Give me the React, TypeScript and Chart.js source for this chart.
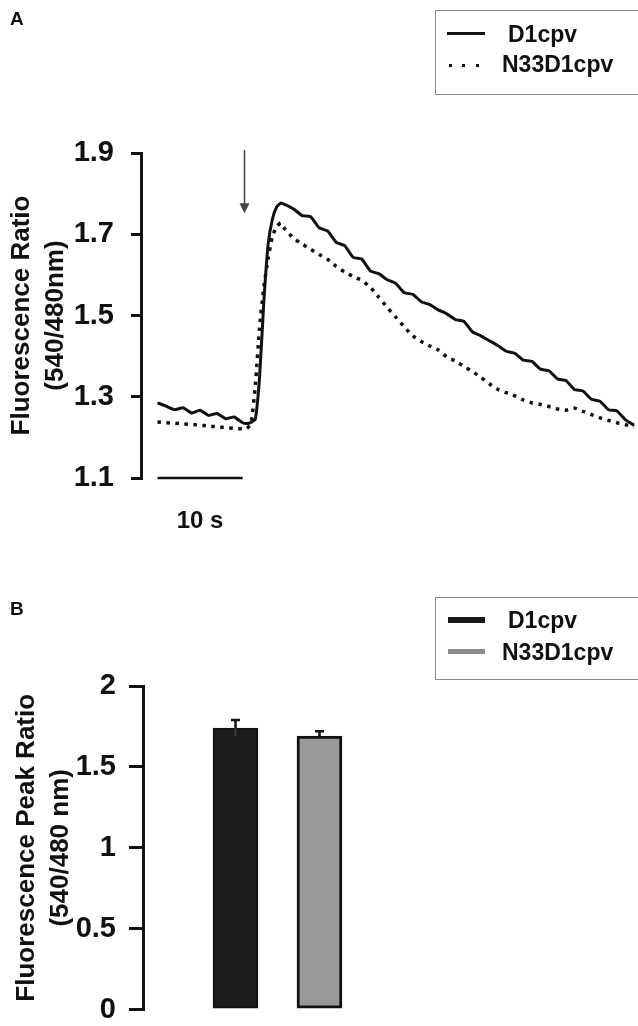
import React, { useEffect, useRef } from "react";
import { Chart, registerables } from "chart.js";

Chart.register(...registerables);

// ---------- Panel A data ----------
const timeSec = [
  0, 1, 2, 3, 4, 5, 6, 7, 8, 9, 10,
  10.5, 11, 11.5, 12, 12.5, 13, 13.5, 14, 14.5, 15,
  16, 17, 18, 19, 20, 21, 22, 23, 24, 25, 26, 27, 28, 29, 30, 31, 32, 33, 34, 35,
  36, 37, 38, 39, 40, 41, 42, 43, 44, 45, 46, 47, 48, 49, 50, 51, 52, 53, 54, 55, 56,
];
const d1cpvRatio = [
  1.285, 1.277, 1.268, 1.273, 1.26, 1.267, 1.254, 1.259, 1.246, 1.25, 1.236,
  1.234, 1.237, 1.245, 1.35, 1.535, 1.675, 1.737, 1.767, 1.777, 1.773,
  1.762, 1.746, 1.743, 1.716, 1.708, 1.68, 1.672, 1.643, 1.639, 1.61, 1.603, 1.588, 1.579, 1.556, 1.552, 1.534, 1.527, 1.514, 1.504, 1.49,
  1.486, 1.46, 1.45, 1.438, 1.426, 1.412, 1.407, 1.39, 1.387, 1.368, 1.364, 1.344, 1.34, 1.318, 1.314, 1.294, 1.289, 1.268, 1.265, 1.243, 1.23,
];
const n33d1cpvRatio = [
  1.238, 1.236, 1.235, 1.233, 1.232, 1.23, 1.228, 1.226, 1.224, 1.222, 1.221,
  1.222, 1.235, 1.33, 1.47, 1.57, 1.64, 1.695, 1.718, 1.728, 1.712,
  1.69, 1.676, 1.663, 1.65, 1.638, 1.621, 1.607, 1.596, 1.586, 1.57, 1.545, 1.52, 1.496, 1.472, 1.45, 1.436, 1.425, 1.415, 1.398, 1.388,
  1.375, 1.362, 1.348, 1.332, 1.318, 1.31, 1.302, 1.292, 1.285, 1.281, 1.276, 1.27, 1.267, 1.272, 1.264, 1.256, 1.248, 1.242, 1.236, 1.231, 1.226,
];
const scaleBarTime = [0, 10];
const scaleBarLevel = [1.1, 1.1];
const scaleBarLabel = "10 s";
const stimulusTime = [10.2];
const stimulusFrom = [1.907];
const stimulusTo = [1.752];
const seriesNames = ["D1cpv", "N33D1cpv"];
const ratioTitle = ["Fluorescence Ratio", "(540/480nm)"];

// ---------- Panel B data ----------
const barGroups = ["D1cpv", "N33D1cpv"];
const barPos = [1, 2];
const peakMean = [1.74, 1.69];
const peakErr = [0.05, 0.03];
const peakTitle = ["Fluorescence Peak Ratio", "(540/480 nm)"];

const FONT = "'Liberation Sans', Arial, Helvetica, sans-serif";
const INK = "#111";

const annotPlugin = {
  id: "annotA",
  afterDatasetsDraw(chart: any) {
    const { ctx, scales } = chart;
    const xs = scales.x;
    const ys = scales.y;
    ctx.save();
    for (let i = 0; i < stimulusTime.length; i++) {
      const x = Math.round(xs.getPixelForValue(stimulusTime[i])) + 0.5;
      const y1 = ys.getPixelForValue(stimulusFrom[i]);
      const y2 = ys.getPixelForValue(stimulusTo[i]);
      ctx.strokeStyle = "#444";
      ctx.fillStyle = "#444";
      ctx.lineWidth = 1.5;
      ctx.beginPath();
      ctx.moveTo(x, y1);
      ctx.lineTo(x, y2 - 8);
      ctx.stroke();
      ctx.beginPath();
      ctx.moveTo(x - 5, y2 - 10);
      ctx.lineTo(x + 5, y2 - 10);
      ctx.lineTo(x, y2);
      ctx.closePath();
      ctx.fill();
    }
    const cx = (xs.getPixelForValue(scaleBarTime[0]) + xs.getPixelForValue(scaleBarTime[1])) / 2;
    const by = ys.getPixelForValue(scaleBarLevel[0]);
    ctx.fillStyle = INK;
    ctx.font = `bold 24px ${FONT}`;
    ctx.textAlign = "center";
    ctx.textBaseline = "alphabetic";
    ctx.fillText(scaleBarLabel, cx, by + 50);
    ctx.restore();
  },
};

const errorPlugin = {
  id: "errB",
  afterDatasetsDraw(chart: any) {
    const { ctx, scales } = chart;
    const ys = scales.y;
    ctx.save();
    chart.data.datasets.forEach((_: any, i: number) => {
      const meta = chart.getDatasetMeta(i);
      const bar = meta.data[0];
      if (!bar) return;
      const x = Math.round(bar.x) + 0.5;
      const yTop = ys.getPixelForValue(peakMean[i] + peakErr[i]);
      const yBase = ys.getPixelForValue(peakMean[i]);
      const yLow = ys.getPixelForValue(peakMean[i] - peakErr[i]);
      ctx.strokeStyle = INK;
      ctx.lineWidth = 2.5;
      ctx.beginPath();
      ctx.moveTo(x, yBase);
      ctx.lineTo(x, yTop);
      ctx.moveTo(x - 4.5, yTop);
      ctx.lineTo(x + 4.5, yTop);
      ctx.stroke();
      if (i === 0) {
        ctx.strokeStyle = "#3a3a3a";
        ctx.lineWidth = 2;
        ctx.beginPath();
        ctx.moveTo(x, yBase);
        ctx.lineTo(x, yLow);
        ctx.stroke();
      }
    });
    ctx.restore();
  },
};

function yAxis(min: number, max: number, step: number, width: number, tickLen: number, pad: number, title: string[], titlePad: number, fmt: (v: number) => string) {
  return {
    min,
    max,
    afterFit: (s: any) => {
      s.width = width;
    },
    ticks: {
      stepSize: step,
      color: INK,
      padding: pad,
      font: { family: FONT, size: 29, weight: "bold" },
      callback: (v: any) => fmt(Number(v)),
    },
    grid: { drawOnChartArea: false, drawTicks: true, tickLength: tickLen, color: INK, lineWidth: 3 },
    border: { display: true, color: INK, width: 3 },
    title: {
      display: true,
      text: title,
      color: INK,
      font: { family: FONT, size: 26, weight: "bold", lineHeight: 1.3 },
      padding: { top: titlePad, bottom: 0 },
    },
  };
}

export default function App() {
  const refA = useRef<HTMLCanvasElement>(null);
  const refB = useRef<HTMLCanvasElement>(null);

  useEffect(() => {
    const chartA = new Chart(refA.current as HTMLCanvasElement, {
      type: "line",
      data: {
        datasets: [
          {
            label: seriesNames[0],
            data: timeSec.map((t, i) => ({ x: t, y: d1cpvRatio[i] })),
            borderColor: INK,
            borderWidth: 3,
            pointRadius: 0,
            tension: 0.15,
            fill: false,
          },
          {
            label: seriesNames[1],
            data: timeSec.map((t, i) => ({ x: t, y: n33d1cpvRatio[i] })),
            borderColor: INK,
            borderWidth: 3.5,
            borderDash: [3.5, 5.5],
            borderCapStyle: "butt",
            pointRadius: 0,
            tension: 0.2,
            fill: false,
          },
          {
            label: "scale",
            data: scaleBarTime.map((t, i) => ({ x: t, y: scaleBarLevel[i] })),
            borderColor: INK,
            borderWidth: 2.5,
            pointRadius: 0,
            clip: false,
          },
        ],
      } as any,
      options: {
        responsive: false,
        animation: false,
        layout: { padding: { top: 153, bottom: 67, left: 0, right: 0 } },
        plugins: { legend: { display: false }, tooltip: { enabled: false } },
        scales: {
          x: { type: "linear", display: false, min: -1.94, max: 56.47 },
          y: yAxis(1.1, 1.9, 0.2, 141, 10, 17, ratioTitle, 5, (v) => v.toFixed(1)),
        },
      } as any,
      plugins: [annotPlugin],
    });

    const chartB = new Chart(refB.current as HTMLCanvasElement, {
      type: "bar",
      data: {
        datasets: barGroups.map((g, i) => ({
          label: g,
          data: [{ x: barPos[i], y: peakMean[i] }],
          backgroundColor: i === 0 ? "#1c1c1c" : "#999999",
          borderColor: INK,
          borderWidth: i === 0 ? 2 : 3,
          borderSkipped: false,
          barThickness: 45,
          grouped: false,
        })),
      } as any,
      options: {
        responsive: false,
        animation: false,
        layout: { padding: { top: 126, bottom: 27, left: 0, right: 0 } },
        plugins: { legend: { display: false }, tooltip: { enabled: false } },
        scales: {
          x: { type: "linear", display: false, min: -0.101, max: 5.792, offset: false },
          y: yAxis(0, 2, 0.5, 143, 14, 13, peakTitle, 10, (v) => String(Math.round(v * 10) / 10)),
        },
      } as any,
      plugins: [errorPlugin],
    });

    return () => {
      chartA.destroy();
      chartB.destroy();
    };
  }, []);

  const txt: React.CSSProperties = {
    position: "absolute",
    fontFamily: FONT,
    fontWeight: "bold",
    fontSize: 23,
    lineHeight: "23px",
    color: INK,
    whiteSpace: "nowrap",
  };
  const box = (top: number, height: number): React.CSSProperties => ({
    position: "absolute",
    left: 435,
    top,
    width: 230,
    height,
    border: "1.5px solid #8a8a8a",
    boxSizing: "border-box",
  });

  return (
    <div style={{ position: "absolute", left: 0, top: 0, width: 638, height: 1026, overflow: "hidden", background: "#fff" }}>
      <canvas ref={refA} width={638} height={545} style={{ position: "absolute", left: 0, top: 0, width: 638, height: 545 }} />
      <canvas ref={refB} width={638} height={480} style={{ position: "absolute", left: 0, top: 560, width: 638, height: 480 }} />

      <div style={{ ...txt, fontSize: 19, lineHeight: "19px", left: 10, top: 9 }}>A</div>
      <div style={{ ...txt, fontSize: 19, lineHeight: "19px", left: 10, top: 599 }}>B</div>

      <div style={box(10, 85)} />
      <div style={{ position: "absolute", left: 447, top: 32, width: 38, height: 3, background: INK }} />
      <div
        style={{
          position: "absolute",
          left: 449,
          top: 64,
          width: 31,
          height: 3,
          backgroundImage: `repeating-linear-gradient(to right, ${INK} 0px, ${INK} 3px, transparent 3px, transparent 13.5px)`,
        }}
      />
      <div style={{ ...txt, left: 508, top: 22.5 }}>{seriesNames[0]}</div>
      <div style={{ ...txt, left: 502, top: 52.5 }}>{seriesNames[1]}</div>

      <div style={box(597, 83)} />
      <div style={{ position: "absolute", left: 448, top: 617, width: 37, height: 6, background: "#1a1a1a" }} />
      <div style={{ position: "absolute", left: 448, top: 649, width: 37, height: 5, background: "#8c8c8c" }} />
      <div style={{ ...txt, left: 508, top: 608.5 }}>{barGroups[0]}</div>
      <div style={{ ...txt, left: 502, top: 640.5 }}>{barGroups[1]}</div>
    </div>
  );
}
